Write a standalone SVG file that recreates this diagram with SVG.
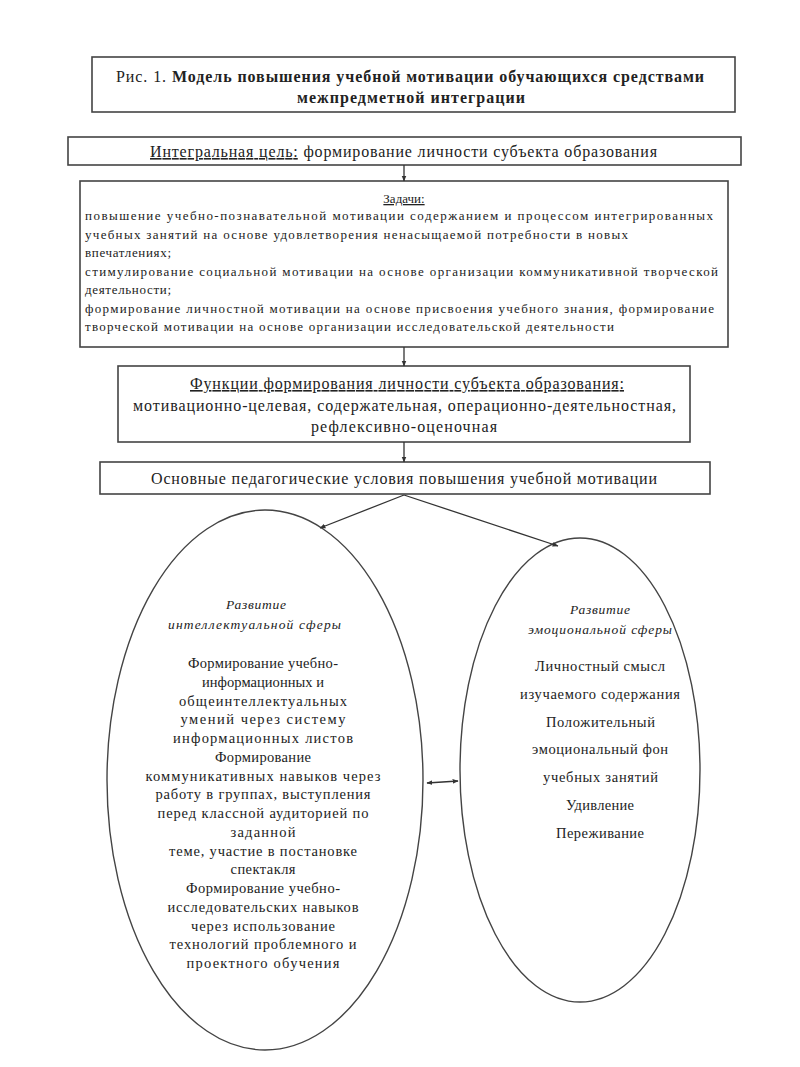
<svg xmlns="http://www.w3.org/2000/svg" width="800" height="1067" viewBox="0 0 800 1067">
<defs>
<style>
.box{fill:#fff;stroke:#444;stroke-width:1.6}
.ell{fill:#fff;stroke:#444;stroke-width:1.4}
.t{font-family:"Liberation Serif","DejaVu Serif","Times New Roman",serif;fill:#222}
.c{text-anchor:middle}
.u{text-decoration:underline}
.i{font-style:italic}
.con{stroke:#333;stroke-width:1.3;fill:none}
</style>
<marker id="ah" viewBox="0 0 10 10" refX="9" refY="5" markerWidth="6" markerHeight="6" orient="auto-start-reverse" markerUnits="userSpaceOnUse">
<path d="M0,1 L10,5 L0,9 z" fill="#333"/>
</marker>
</defs>
<rect width="800" height="1067" fill="#fff"/>

<g id="title">
<rect class="box" x="92" y="57" width="643" height="55"/>
<text class="t" x="116" y="82" font-size="16" textLength="588" lengthAdjust="spacing"><tspan>Рис. 1. </tspan><tspan font-weight="bold">Модель повышения учебной мотивации обучающихся средствами</tspan></text>
<text class="t" x="297" y="103" font-size="16" font-weight="bold" textLength="228" lengthAdjust="spacing">межпредметной интеграции</text>
</g>

<g id="goal">
<rect class="box" x="68" y="137" width="673" height="28"/>
<text class="t" x="150" y="157" font-size="16" textLength="507" lengthAdjust="spacing"><tspan class="u">Интегральная цель:</tspan> формирование личности субъекта образования</text>
</g>

<g id="tasks">
<rect class="box" x="80" y="181" width="648" height="166"/>
<text class="t u c" x="404" y="203" font-size="13">Задачи:</text>
<text class="t" x="85" y="220" font-size="13" textLength="628" lengthAdjust="spacing">повышение учебно-познавательной мотивации содержанием и процессом интегрированных</text>
<text class="t" x="85" y="238.5" font-size="13" textLength="543" lengthAdjust="spacing">учебных занятий на основе удовлетворения ненасыщаемой потребности в новых</text>
<text class="t" x="85" y="257" font-size="13" textLength="86" lengthAdjust="spacing">впечатлениях;</text>
<text class="t" x="85" y="275.5" font-size="13" textLength="633" lengthAdjust="spacing">стимулирование социальной мотивации на основе организации коммуникативной творческой</text>
<text class="t" x="85" y="294" font-size="13" textLength="86" lengthAdjust="spacing">деятельности;</text>
<text class="t" x="85" y="312.5" font-size="13" textLength="629" lengthAdjust="spacing">формирование  личностной мотивации на основе присвоения учебного знания, формирование</text>
<text class="t" x="85" y="331" font-size="13" textLength="529" lengthAdjust="spacing">творческой мотивации на основе организации исследовательской деятельности</text>
</g>

<g id="functions">
<rect class="box" x="118" y="366" width="572" height="76"/>
<text class="t u" x="190" y="389" font-size="16" textLength="434" lengthAdjust="spacing">Функции формирования личности субъекта образования:</text>
<text class="t" x="133" y="411" font-size="16" textLength="543" lengthAdjust="spacing">мотивационно-целевая, содержательная, операционно-деятельностная,</text>
<text class="t" x="311" y="432" font-size="16" textLength="186" lengthAdjust="spacing">рефлексивно-оценочная</text>
</g>

<g id="conditions">
<rect class="box" x="100" y="462" width="610" height="32"/>
<text class="t" x="151" y="484" font-size="16" textLength="506" lengthAdjust="spacing">Основные педагогические условия повышения учебной мотивации</text>
</g>

<g id="intellect">
<ellipse class="ell" cx="265" cy="780" rx="158" ry="270"/>
<text class="t i" font-size="13.5" x="226" y="609" textLength="60" lengthAdjust="spacing">Развитие</text>
<text class="t i" font-size="13.5" x="168" y="629" textLength="173" lengthAdjust="spacing">интеллектуальной сферы</text>
<g class="t" font-size="14.5">
<text x="188" y="668" textLength="150" lengthAdjust="spacing">Формирование учебно-</text>
<text x="202" y="686.75" textLength="122" lengthAdjust="spacing">информационных и</text>
<text x="179" y="705.5" textLength="168" lengthAdjust="spacing">общеинтеллектуальных</text>
<text x="180.5" y="724.25" textLength="165" lengthAdjust="spacing">умений через систему</text>
<text x="173" y="743" textLength="180" lengthAdjust="spacing">информационных листов</text>
<text x="215" y="761.75" textLength="96" lengthAdjust="spacing">Формирование</text>
<text x="145.5" y="780.5" textLength="235" lengthAdjust="spacing">коммуникативных навыков через</text>
<text x="155.5" y="799.25" textLength="215" lengthAdjust="spacing">работу в группах, выступления</text>
<text x="157.5" y="818" textLength="211" lengthAdjust="spacing">перед классной аудиторией по</text>
<text x="230.5" y="836.75" textLength="65" lengthAdjust="spacing">заданной</text>
<text x="169" y="855.5" textLength="188" lengthAdjust="spacing">теме, участие в постановке</text>
<text x="230.5" y="874.25" textLength="65" lengthAdjust="spacing">спектакля</text>
<text x="186" y="893" textLength="154" lengthAdjust="spacing">Формирование учебно-</text>
<text x="167.5" y="911.75" textLength="191" lengthAdjust="spacing">исследовательских навыков</text>
<text x="191" y="930.5" textLength="144" lengthAdjust="spacing">через использование</text>
<text x="169.5" y="949.25" textLength="187" lengthAdjust="spacing">технологий проблемного и</text>
<text x="186.5" y="968" textLength="153" lengthAdjust="spacing">проектного обучения</text>
</g>
</g>

<g id="emotion">
<ellipse class="ell" cx="580" cy="770" rx="120" ry="232"/>
<text class="t i" font-size="13.5" x="570" y="614" textLength="60" lengthAdjust="spacing">Развитие</text>
<text class="t i" font-size="13.5" x="528" y="634" textLength="144" lengthAdjust="spacing">эмоциональной сферы</text>
<g class="t" font-size="14.5">
<text x="535" y="671" textLength="130" lengthAdjust="spacing">Личностный смысл</text>
<text x="520" y="699" textLength="160" lengthAdjust="spacing">изучаемого содержания</text>
<text x="546" y="727" textLength="109" lengthAdjust="spacing">Положительный</text>
<text x="532" y="754" textLength="136" lengthAdjust="spacing">эмоциональный фон</text>
<text x="543" y="782" textLength="115" lengthAdjust="spacing">учебных занятий</text>
<text x="566" y="810" textLength="68" lengthAdjust="spacing">Удивление</text>
<text x="556" y="838" textLength="88" lengthAdjust="spacing">Переживание</text>
</g>
</g>

<g id="connectors">
<line class="con" x1="404" y1="165" x2="404" y2="181" marker-end="url(#ah)"/>
<line class="con" x1="404" y1="347" x2="404" y2="366" marker-end="url(#ah)"/>
<line class="con" x1="404" y1="442" x2="404" y2="462" marker-end="url(#ah)"/>
<line class="con" x1="404" y1="495" x2="320" y2="528" marker-end="url(#ah)"/>
<line class="con" x1="404" y1="495" x2="558" y2="546" marker-end="url(#ah)"/>
<line class="con" x1="427" y1="783" x2="458" y2="781" marker-start="url(#ah)" marker-end="url(#ah)"/>
</g>
</svg>
